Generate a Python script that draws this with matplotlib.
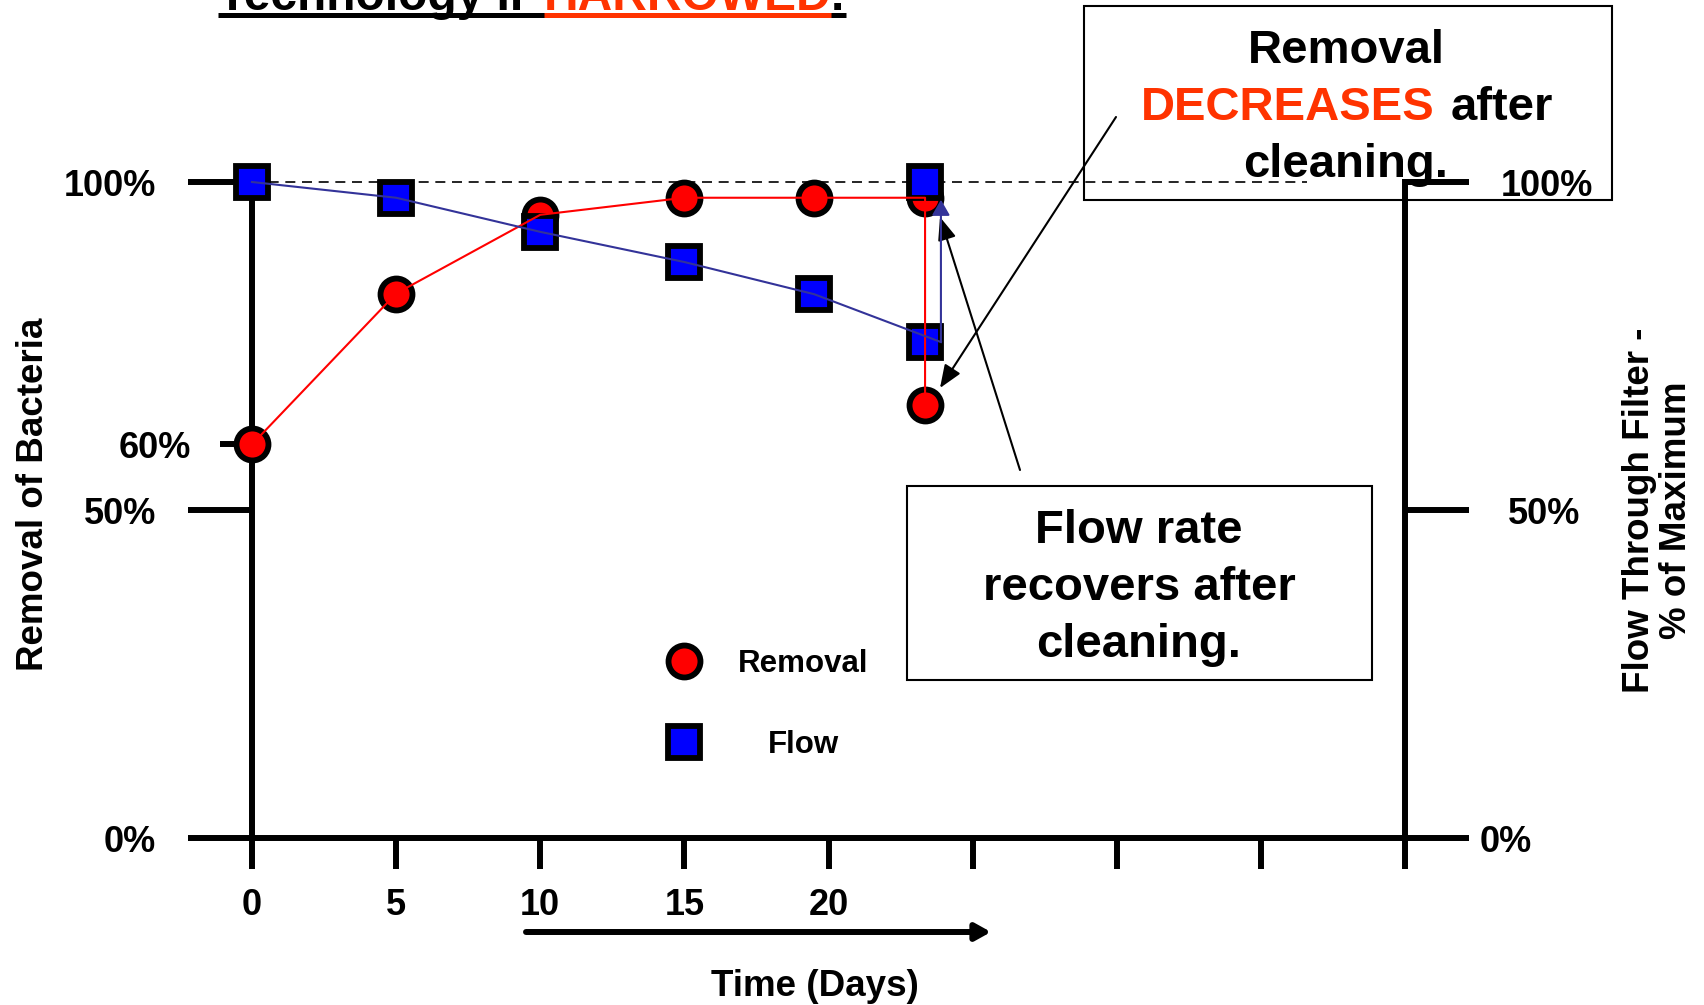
import matplotlib
matplotlib.use("Agg")
import matplotlib.pyplot as plt
from matplotlib.lines import Line2D
from matplotlib.patches import Rectangle
from matplotlib.ticker import FixedLocator, FixedFormatter
from matplotlib.transforms import ScaledTranslation

plt.rcParams['font.family'] = ['Liberation Sans', 'DejaVu Sans']
plt.rcParams['font.weight'] = 'bold'

# ---------------- data ----------------
removal_days = [0, 5, 10, 15, 19.5, 23.35]
removal_values = [60, 83, 95, 97.6, 97.6, 97.6]
removal_after_cleaning = 66

flow_days = [0, 5, 10, 15, 19.5, 23.35]
flow_values = [100, 97.6, 92.4, 87.8, 82.9, 75.6]
flow_after_cleaning = 100
flow_line_end_day = 23.9
flow_arrow_tip = 97.3

x_ticks = [0, 5, 10, 15, 20, 25, 30, 35, 40]
x_tick_labels = ['0', '5', '10', '15', '20', '', '', '', '']
y_major_ticks = [0, 50, 100]
y_major_labels = ['0%', '50%', '100%']
y_minor_ticks = [60]
y_minor_labels = ['60%']
right_label_shift_px = [-21, 7, 0]
reference_level = 100
reference_end_day = 36.6

RED = '#FF0000'
BLUE = '#0000FF'
LINE_BLUE = '#333399'
ORANGE = '#FF3300'

W, H = 1704, 1005
fig = plt.figure(figsize=(W / 100, H / 100), dpi=100)


def fx(x):
    return x / W


def fy(y):
    return 1 - y / H


ax = fig.add_axes([fx(252), fy(838), (1405 - 252) / W, (838 - 182) / H])
ax.set_xlim(0, 40)
ax.set_ylim(0, 100)
ax.patch.set_visible(False)
ax.spines['top'].set_visible(False)
for s in ['left', 'right', 'bottom']:
    ax.spines[s].set_linewidth(4.3)

ax.xaxis.set_major_locator(FixedLocator(x_ticks))
ax.xaxis.set_major_formatter(FixedFormatter(x_tick_labels))
ax.tick_params(axis='x', which='major', direction='out', length=22.3, width=4.3,
               pad=14, labelsize=26)

ax.yaxis.set_major_locator(FixedLocator(y_major_ticks))
ax.yaxis.set_major_formatter(FixedFormatter(y_major_labels))
ax.yaxis.set_minor_locator(FixedLocator(y_minor_ticks))
ax.yaxis.set_minor_formatter(FixedFormatter(y_minor_labels))
ax.tick_params(axis='y', which='major', direction='out', length=46, width=4.3,
               pad=23, labelsize=26, left=True, right=True,
               labelleft=True, labelright=True)
ax.tick_params(axis='y', which='minor', direction='out', length=23, width=4.3,
               pad=21, labelsize=26, left=True, right=False,
               labelleft=True, labelright=False)
for tick, shift in zip(ax.yaxis.get_major_ticks(), right_label_shift_px):
    tick.label2.set_transform(tick.label2.get_transform() +
                              ScaledTranslation(shift / 100, 0, fig.dpi_scale_trans))

# reference dashed line
ax.hlines(reference_level, 0, reference_end_day, colors='black', lw=1.2,
          linestyles=(0, (6, 4)), zorder=1, clip_on=False)

# removal series
rem_x = removal_days + [removal_days[-1]]
rem_y = removal_values + [removal_after_cleaning]
ax.plot(rem_x, rem_y, color=RED, lw=1.5, zorder=5, clip_on=False)
ax.plot(rem_x, rem_y, ls='none', marker='o', ms=23, mfc=RED, mec='black',
        mew=4.2, zorder=3, clip_on=False)

# flow series
flow_line_x = flow_days[:-1] + [flow_line_end_day]
ax.plot(flow_line_x, flow_values, color=LINE_BLUE, lw=1.5, zorder=6, clip_on=False)
flow_mx = flow_days + [flow_days[-1]]
flow_my = flow_values + [flow_after_cleaning]
ax.plot(flow_mx, flow_my, ls='none', marker='s', ms=23, mfc=BLUE, mec='black',
        mew=4.2, zorder=4, clip_on=False)
ax.annotate('', xy=(flow_line_end_day, flow_arrow_tip),
            xytext=(flow_line_end_day, flow_values[-1]),
            arrowprops=dict(arrowstyle='-|>,head_length=0.47,head_width=0.27',
                            color=LINE_BLUE, lw=1.5, mutation_scale=20,
                            shrinkA=0, shrinkB=0),
            zorder=6, annotation_clip=False)

# legends
h_rem = Line2D([], [], ls='none', marker='o', ms=23, mfc=RED, mec='black', mew=4.2)
h_flow = Line2D([], [], ls='none', marker='s', ms=23, mfc=BLUE, mec='black', mew=4.2)
leg1 = ax.legend([h_rem], ['Removal'], loc='center left',
                 bbox_to_anchor=(fx(665), fy(664)), bbox_transform=fig.transFigure,
                 frameon=False, borderpad=0, borderaxespad=0, handlelength=1.2,
                 handletextpad=1.14, fontsize=22.5, numpoints=1)
ax.add_artist(leg1)
ax.legend([h_flow], ['Flow'], loc='center left',
          bbox_to_anchor=(fx(665), fy(745)), bbox_transform=fig.transFigure,
          frameon=False, borderpad=0, borderaxespad=0, handlelength=1.2,
          handletextpad=2.1, fontsize=22.5, numpoints=1)

# axis labels
fig.text(fx(34), fy(494), 'Removal of Bacteria', rotation=90, ha='center',
         va='center', fontsize=26.5)
fig.text(fx(1658), fy(510), 'Flow Through Filter -\n% of Maximum', rotation=90,
         ha='center', va='center', fontsize=26.5, multialignment='center',
         linespacing=1.1)
fig.text(fx(815), fy(986), 'Time (Days)', ha='center', va='center', fontsize=26.5)

# time arrow
ax.annotate('', xy=(991, H - 932), xycoords='figure pixels',
            xytext=(526, H - 932), textcoords='figure pixels',
            arrowprops=dict(arrowstyle='-|>,head_length=0.45,head_width=0.25',
                            color='black', lw=4.3, mutation_scale=20,
                            shrinkA=0, shrinkB=0),
            annotation_clip=False)

# title (cut off at the top edge, as in the reference)
TS = 34.5
fig.text(fx(218), fy(10), 'Technology II ', ha='left', va='baseline', fontsize=TS)
fig.text(fx(544), fy(10), 'HARROWED', ha='left', va='baseline', fontsize=TS,
         color=ORANGE)
fig.text(fx(831), fy(10), '.', ha='left', va='baseline', fontsize=TS)
fig.add_artist(Line2D([fx(218), fx(846)], [fy(15.5), fy(15.5)], color='black',
                      lw=3.6, solid_capstyle='butt', transform=fig.transFigure))
fig.add_artist(Line2D([fx(544), fx(831)], [fy(15.5), fy(15.5)], color=ORANGE,
                      lw=3.6, solid_capstyle='butt', transform=fig.transFigure))

# annotation box 1
BS = 34
fig.add_artist(Rectangle((fx(1084), fy(200)), (1612 - 1084) / W, (200 - 6) / H,
                         transform=fig.transFigure, fill=False, ec='black', lw=1.5))
fig.text(fx(1346), fy(63), 'Removal', ha='center', va='baseline', fontsize=BS)
fig.text(fx(1141), fy(120), 'DECREASES', ha='left', va='baseline', fontsize=BS,
         color=ORANGE)
fig.text(fx(1553), fy(120), 'after', ha='right', va='baseline', fontsize=BS)
fig.text(fx(1346), fy(177), 'cleaning.', ha='center', va='baseline', fontsize=BS)
ax.annotate('', xy=(940, H - 388), xycoords='figure pixels',
            xytext=(1116, H - 117), textcoords='figure pixels',
            arrowprops=dict(arrowstyle='-|>,head_length=0.7,head_width=0.28',
                            color='black', lw=1.5, mutation_scale=20,
                            shrinkA=0, shrinkB=0),
            annotation_clip=False)

# annotation box 2
fig.add_artist(Rectangle((fx(907), fy(680)), (1372 - 907) / W, (680 - 486) / H,
                         transform=fig.transFigure, fill=False, ec='black', lw=1.5))
for i, line in enumerate(['Flow rate', 'recovers after', 'cleaning.']):
    fig.text(fx(1139), fy(543 + 57 * i), line, ha='center', va='baseline', fontsize=BS)
ax.annotate('', xy=(940, H - 217), xycoords='figure pixels',
            xytext=(1020, H - 470), textcoords='figure pixels',
            arrowprops=dict(arrowstyle='-|>,head_length=0.7,head_width=0.28',
                            color='black', lw=1.5, mutation_scale=20,
                            shrinkA=0, shrinkB=0),
            annotation_clip=False)

fig.savefig('out.png', dpi=100)
